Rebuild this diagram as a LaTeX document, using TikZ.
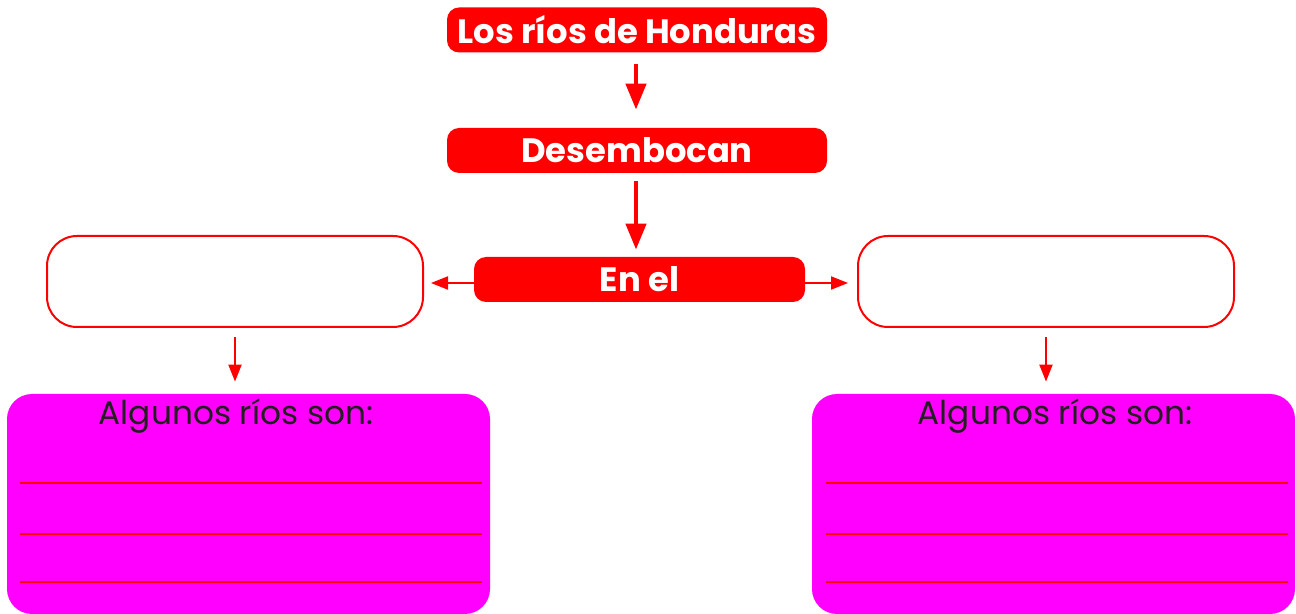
\documentclass[tikz,border=0pt]{standalone}
\usepackage{fontspec}
\setmainfont{Poppins}
\usetikzlibrary{arrows.meta}
\definecolor{rojo}{HTML}{FF0000}
\definecolor{mag}{HTML}{FF00FF}
\definecolor{tinta}{HTML}{231F20}
\begin{document}
\begin{tikzpicture}[x=0.5pt,y=-0.5pt,
  redbox/.style={fill=rojo, rounded corners=6pt, inner sep=0pt, text=white,
    font=\fontsize{16.9}{19}\selectfont\bfseries, minimum height=22.5pt},
  emptybox/.style={draw=rojo, line width=1pt, fill=white, rounded corners=15pt,
    minimum width=188pt, minimum height=45.5pt, inner sep=0pt},
  magbox/.style={fill=mag, rounded corners=12.5pt, minimum width=241.5pt,
    minimum height=110pt, inner sep=0pt},
  head/.style={text=tinta, font=\fontsize{16.4}{19}\selectfont, inner sep=0pt},
  bigarrow/.style={draw=rojo, line width=2.25pt,
    -{Triangle[length=13pt,width=10pt]}},
  smallarrow/.style={draw=rojo, line width=1pt,
    -{Triangle[length=8.5pt,width=6.5pt]}},
  rule/.style={draw=rojo, line width=1pt}]
\useasboundingbox (0,0) rectangle (1296,614);

\node[redbox, minimum width=190pt] (title) at (637,30) {Los ríos de Honduras};
\node[redbox, minimum width=190pt] (des) at (637,150.5) {Desembocan};
\node[redbox, minimum width=165.5pt] (enel) at (639.5,279.5) {En el};

\node[emptybox] (left) at (235,281.5) {};
\node[emptybox] (right) at (1046,281.5) {};

\node[magbox] (mleft) at (248.5,504) {};
\node[magbox] (mright) at (1053.5,504) {};

\node[head] (tl) at (236,416) {Algunos ríos son:};
\node[head] (tr) at (1055,416) {Algunos ríos son:};

\draw[bigarrow, shorten <=5.5pt, shorten >=9pt] (title.south -| 636,0) -- (des.north -| 636,0);
\draw[bigarrow, shorten <=4pt, shorten >=3.5pt] (des.south -| 636,0) -- (enel.north -| 636,0);
\draw[smallarrow, shorten >=3.5pt] ([yshift=-1.75pt]enel.west) -- ([yshift=-1.75pt]enel.west -| left.east);
\draw[smallarrow, shorten >=4.5pt] ([yshift=-1.75pt]enel.east) -- ([yshift=-1.75pt]enel.east -| right.west);
\draw[smallarrow, shorten <=4.5pt, shorten >=6pt] (left.south) -- (left.south |- mleft.north);
\draw[smallarrow, shorten <=4.5pt, shorten >=6pt] (right.south) -- (right.south |- mright.north);

\foreach \y in {483,534,582}{
  \draw[rule] (20,\y) -- (482,\y);
  \draw[rule] (826,\y) -- (1288,\y);
}
\end{tikzpicture}
\end{document}
